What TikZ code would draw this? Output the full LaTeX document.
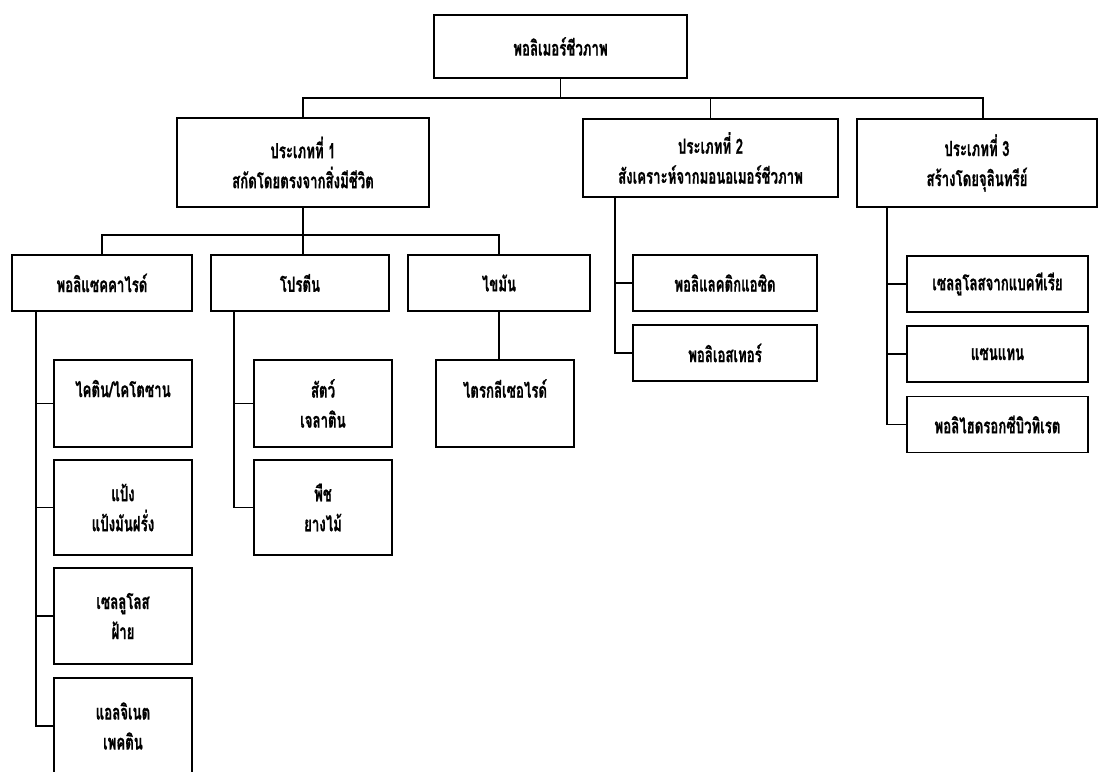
\documentclass[tikz,border=0pt]{standalone}
\usepackage{fontspec}
\newfontfamily\thaifont[Script=Thai,FakeStretch=0.63,FakeBold=0.6]{Loma}
\begin{document}
\begin{tikzpicture}[x=1pt,y=-1pt,
  box/.style={draw, line width=1.5pt, inner sep=0pt, align=center,
    font=\thaifont\bfseries\fontsize{21}{30}\selectfont},
  conn/.style={line width=1.2pt}]
\useasboundingbox (0,0) rectangle (1100,771);
\fill[white] (0,0) rectangle (1100,771);
% top level
\node[box, minimum width=253pt, minimum height=63pt] (top) at (560.5,46.5) {พอลิเมอร์ชีวภาพ};
\node[box, minimum width=252pt, minimum height=89pt] (t1) at (303,162.5) {ประเภทที่ 1\\สกัดโดยตรงจากสิ่งมีชีวิต};
\node[box, minimum width=255pt, minimum height=78pt] (t2) at (710.5,158) {ประเภทที่ 2\\สังเคราะห์จากมอนอเมอร์ชีวภาพ};
\node[box, minimum width=240pt, minimum height=88pt] (t3) at (977,163) {ประเภทที่ 3\\สร้างโดยจุลินทรีย์};
\coordinate (b3) at (983,98);
\draw[conn] (t1.north) -- (t1.north |- b3) -- (b3) -- (b3 |- t3.north);
\draw[conn] (top.south) -- (top.south |- b3);
\draw[conn] (t2.north) -- (t2.north |- b3);
% type 1 children
\node[box, minimum width=180pt, minimum height=56pt] (p) at (102,283) {พอลิแซคคาไรด์};
\node[box, minimum width=178pt, minimum height=56pt] (pr) at (300,283) {โปรตีน};
\node[box, minimum width=182pt, minimum height=56pt] (f) at (499,283) {ไขมัน};
\coordinate (sb) at (0,235);
\draw[conn] (t1.south) -- (t1.south |- pr.north);
\draw[conn] (p.north) -- (p.north |- sb) -| (f.north);
% polysaccharide children
\node[box, minimum width=138pt, minimum height=87pt] (c1) at (123,403.5) {ไคติน/ไคโตซาน\\\mbox{}};
\node[box, minimum width=138pt, minimum height=95pt] (c2) at (123,507.5) {แป้ง\\แป้งมันฝรั่ง};
\node[box, minimum width=138pt, minimum height=96pt] (c3) at (123,616) {เซลลูโลส\\ฝ้าย};
\node[box, minimum width=138pt, minimum height=96pt] (c4) at (123,726) {แอลจิเนต\\เพคติน};
\coordinate (pv) at (36,311);
\draw[conn] (pv) -- (pv |- c4.west) -- (c4.west);
\draw[conn] (pv |- c1.west) -- (c1.west);
\draw[conn] (pv |- c2.west) -- (c2.west);
\draw[conn] (pv |- c3.west) -- (c3.west);
% protein children
\node[box, minimum width=138pt, minimum height=87pt] (s1) at (323,403.5) {สัตว์\\เจลาติน};
\node[box, minimum width=138pt, minimum height=95pt] (s2) at (323,507.5) {พืช\\ยางไม้};
\coordinate (prv) at (234,311);
\draw[conn] (prv) -- (prv |- s2.west) -- (s2.west);
\draw[conn] (prv |- s1.west) -- (s1.west);
% fat child
\node[box, minimum width=138pt, minimum height=87pt] (tri) at (505,403.5) {ไตรกลีเซอไรด์\\\mbox{}};
\draw[conn] (f.south) -- (f.south |- tri.north);
% type 2 children
\node[box, minimum width=184pt, minimum height=56pt] (pla) at (725,283) {พอลิแลคติกแอซิด};
\node[box, minimum width=184pt, minimum height=56pt] (pe) at (725,353) {พอลิเอสเทอร์};
\coordinate (t2v) at (615,197);
\draw[conn] (t2v) -- (t2v |- pe.west) -- (pe.west);
\draw[conn] (t2v |- pla.west) -- (pla.west);
% type 3 children
\node[box, minimum width=181pt, minimum height=56pt] (bc) at (997.5,284) {เซลลูโลสจากแบคทีเรีย};
\node[box, minimum width=181pt, minimum height=56pt] (xa) at (997.5,354) {แซนแทน};
\node[box, minimum width=181pt, minimum height=56pt] (phb) at (997.5,424.5) {พอลิไฮดรอกซีบิวทิเรต};
\coordinate (t3v) at (887,207);
\draw[conn] (t3v) -- (t3v |- phb.west) -- (phb.west);
\draw[conn] (t3v |- bc.west) -- (bc.west);
\draw[conn] (t3v |- xa.west) -- (xa.west);
\end{tikzpicture}
\end{document}
